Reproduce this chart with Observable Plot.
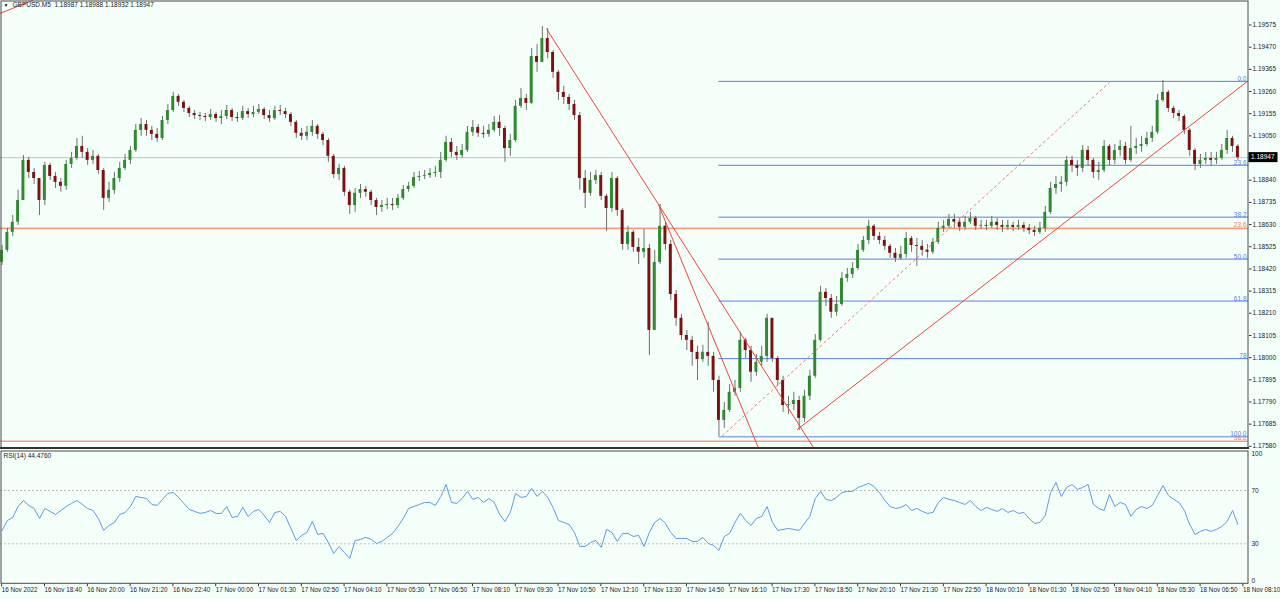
<!DOCTYPE html>
<html><head><meta charset="utf-8">
<script src="https://cdn.jsdelivr.net/npm/d3@7"></script>
<script src="https://cdn.jsdelivr.net/npm/@observablehq/plot@0.6"></script>
<style>
html,body{margin:0;padding:0;background:#f5fffa;overflow:hidden}
#chart{position:relative;width:1280px;height:599px}
svg{display:block}
</style></head><body><div id="chart"></div>
<script>
// ---- data (GBPUSD M5, two 5-minute bars per candle) ----
const symbolName = "GBPUSD.M5";
const lastBarOHLC = [1.18987, 1.18988, 1.18932, 1.18947];
const firstOpen = 1.18451;
const closes = [1.18508,1.18593,1.18641,1.18744,1.18934,1.18877,1.18848,1.18744,1.18910,1.18858,
1.18830,1.18811,1.18915,1.18943,1.19000,1.18972,1.18934,1.18953,1.18886,1.18754,
1.18792,1.18848,1.18896,1.18934,1.18981,1.19076,1.19104,1.19076,1.19057,1.19038,
1.19123,1.19170,1.19237,1.19209,1.19180,1.19156,1.19146,1.19142,1.19137,1.19151,
1.19132,1.19142,1.19170,1.19137,1.19132,1.19165,1.19151,1.19161,1.19175,1.19146,
1.19132,1.19170,1.19165,1.19151,1.19114,1.19062,1.19048,1.19067,1.19095,1.19057,
1.19028,1.18953,1.18867,1.18896,1.18783,1.18720,1.18778,1.18796,1.18783,1.18744,
1.18711,1.18720,1.18725,1.18720,1.18754,1.18796,1.18811,1.18853,1.18858,1.18862,
1.18872,1.18877,1.18934,1.19019,1.18972,1.18957,1.18981,1.19067,1.19090,1.19062,
1.19057,1.19076,1.19114,1.19085,1.18990,1.19028,1.19190,1.19227,1.19204,1.19426,
1.19398,1.19511,1.19445,1.19351,1.19256,1.19232,1.19199,1.19146,1.18848,1.18778,
1.18839,1.18862,1.18764,1.18706,1.18848,1.18697,1.18536,1.18593,1.18522,1.18499,
1.18517,1.18129,1.18451,1.18622,1.18536,1.18299,1.18186,1.18105,1.18082,1.18025,
1.17991,1.18025,1.18006,1.17892,1.17703,1.17750,1.17836,1.17854,1.18082,1.18034,
1.17931,1.17978,1.18006,1.18186,1.17996,1.17892,1.17773,1.17778,1.17797,1.17712,
1.17817,1.17912,1.18082,1.18309,1.18280,1.18215,1.18252,1.18375,1.18394,1.18422,
1.18508,1.18555,1.18622,1.18574,1.18555,1.18527,1.18494,1.18470,1.18489,1.18564,
1.18531,1.18527,1.18508,1.18499,1.18546,1.18612,1.18622,1.18654,1.18641,1.18617,
1.18641,1.18659,1.18622,1.18626,1.18622,1.18641,1.18626,1.18617,1.18626,1.18617,
1.18626,1.18612,1.18602,1.18593,1.18612,1.18688,1.18801,1.18820,1.18830,1.18934,
1.18910,1.18896,1.18981,1.18934,1.18877,1.18886,1.19000,1.18934,1.18981,1.19000,
1.18934,1.18990,1.19000,1.19009,1.19038,1.19067,1.19218,1.19256,1.19180,1.19156,
1.19142,1.19076,1.18981,1.18915,1.18934,1.18943,1.18934,1.18943,1.18981,1.19038,
1.19000,1.18947];
const highs = [1.18531,1.18612,1.18673,1.18792,1.18957,1.18948,1.18896,1.18839,1.18925,1.18920,
1.18877,1.18848,1.18934,1.18972,1.19038,1.19048,1.18990,1.18981,1.18962,1.18896,
1.18830,1.18877,1.18925,1.18962,1.19000,1.19104,1.19132,1.19123,1.19095,1.19085,
1.19142,1.19199,1.19256,1.19246,1.19218,1.19190,1.19170,1.19161,1.19156,1.19175,
1.19161,1.19170,1.19194,1.19180,1.19161,1.19190,1.19180,1.19190,1.19199,1.19185,
1.19170,1.19190,1.19194,1.19180,1.19161,1.19123,1.19085,1.19095,1.19123,1.19104,
1.19067,1.19038,1.18962,1.18915,1.18906,1.18792,1.18801,1.18820,1.18811,1.18792,
1.18754,1.18744,1.18754,1.18754,1.18773,1.18815,1.18830,1.18877,1.18881,1.18886,
1.18896,1.18906,1.18972,1.19048,1.19038,1.19000,1.19009,1.19095,1.19123,1.19104,
1.19095,1.19104,1.19142,1.19146,1.19095,1.19057,1.19218,1.19274,1.19246,1.19464,
1.19483,1.19568,1.19558,1.19454,1.19360,1.19284,1.19246,1.19218,1.19161,1.18886,
1.18877,1.18886,1.18877,1.18773,1.18877,1.18858,1.18706,1.18622,1.18602,1.18564,
1.18607,1.18536,1.18508,1.18725,1.18641,1.18555,1.18318,1.18205,1.18129,1.18101,
1.18054,1.18058,1.18167,1.18025,1.17912,1.17788,1.17873,1.17892,1.18120,1.18091,
1.18054,1.18015,1.18054,1.18205,1.18186,1.18006,1.17912,1.17817,1.17836,1.17817,
1.17845,1.17940,1.18110,1.18338,1.18328,1.18299,1.18290,1.18404,1.18422,1.18451,
1.18536,1.18574,1.18650,1.18631,1.18593,1.18574,1.18536,1.18517,1.18527,1.18593,
1.18574,1.18564,1.18555,1.18536,1.18564,1.18641,1.18650,1.18678,1.18678,1.18659,
1.18669,1.18688,1.18669,1.18650,1.18650,1.18669,1.18659,1.18650,1.18650,1.18641,
1.18650,1.18641,1.18631,1.18622,1.18641,1.18716,1.18830,1.18858,1.18858,1.18953,
1.18953,1.18934,1.19004,1.19000,1.18943,1.18925,1.19028,1.19009,1.19009,1.19028,
1.19019,1.19095,1.19038,1.19048,1.19067,1.19095,1.19246,1.19312,1.19265,1.19190,
1.19170,1.19151,1.19085,1.18990,1.18962,1.18972,1.18972,1.18972,1.19009,1.19076,
1.19048,1.19009];
const lows = [1.18436,1.18499,1.18574,1.18626,1.18744,1.18848,1.18820,1.18673,1.18720,1.18839,
1.18801,1.18783,1.18792,1.18896,1.18934,1.18943,1.18910,1.18915,1.18867,1.18697,
1.18735,1.18773,1.18830,1.18886,1.18915,1.18972,1.19048,1.19048,1.19028,1.19019,
1.19028,1.19104,1.19161,1.19190,1.19161,1.19137,1.19127,1.19123,1.19118,1.19123,
1.19114,1.19104,1.19127,1.19118,1.19114,1.19123,1.19132,1.19137,1.19151,1.19127,
1.19114,1.19123,1.19146,1.19132,1.19095,1.19038,1.19028,1.19028,1.19048,1.19033,
1.19004,1.18925,1.18848,1.18839,1.18764,1.18678,1.18688,1.18754,1.18759,1.18720,
1.18673,1.18688,1.18701,1.18697,1.18706,1.18744,1.18783,1.18801,1.18834,1.18843,
1.18848,1.18853,1.18848,1.18925,1.18948,1.18934,1.18943,1.18972,1.19048,1.19043,
1.19038,1.19043,1.19067,1.19048,1.18925,1.18953,1.19019,1.19180,1.19170,1.19199,
1.19351,1.19398,1.19416,1.19322,1.19218,1.19199,1.19170,1.19123,1.18792,1.18706,
1.18764,1.18820,1.18744,1.18597,1.18688,1.18669,1.18508,1.18508,1.18499,1.18441,
1.18470,1.18010,1.18271,1.18441,1.18508,1.18271,1.18148,1.18082,1.18034,1.17959,
1.17892,1.17978,1.17959,1.17836,1.17627,1.17665,1.17741,1.17817,1.17836,1.17996,
1.17883,1.17912,1.17959,1.17978,1.17978,1.17864,1.17741,1.17731,1.17750,1.17655,
1.17694,1.17797,1.17902,1.18073,1.18243,1.18186,1.18196,1.18243,1.18357,1.18375,
1.18413,1.18499,1.18536,1.18555,1.18536,1.18508,1.18470,1.18451,1.18460,1.18470,
1.18499,1.18432,1.18480,1.18470,1.18489,1.18536,1.18593,1.18612,1.18612,1.18597,
1.18602,1.18631,1.18602,1.18607,1.18602,1.18612,1.18602,1.18593,1.18602,1.18597,
1.18602,1.18593,1.18583,1.18574,1.18583,1.18593,1.18678,1.18773,1.18783,1.18811,
1.18877,1.18858,1.18877,1.18906,1.18848,1.18839,1.18877,1.18906,1.18915,1.18953,
1.18915,1.18925,1.18962,1.18972,1.19000,1.19019,1.19057,1.19209,1.19161,1.19132,
1.19118,1.19057,1.18953,1.18886,1.18896,1.18915,1.18906,1.18915,1.18934,1.18962,
1.18972,1.18934];
const rsiValues = [40.0,47.5,49.8,58.0,62.5,58.8,56.5,49.0,56.5,54.3,
52.0,55.0,58.0,60.3,62.5,59.5,56.5,55.0,49.0,40.0,
43.8,46.0,52.0,53.5,58.0,65.5,64.8,64.0,59.5,58.8,
63.3,67.8,68.5,64.8,60.3,55.8,54.3,52.8,53.5,55.0,
52.8,52.8,58.0,49.8,50.5,57.3,50.5,54.3,55.8,51.3,
46.0,53.5,54.3,50.5,41.5,32.5,36.3,38.5,46.8,37.0,
37.8,31.0,22.8,28.0,23.5,19.0,32.5,33.3,34.8,33.3,
30.3,31.8,34.8,37.8,43.0,49.0,56.5,58.0,59.5,61.0,
61.0,58.8,65.5,74.5,61.0,60.3,64.0,69.3,63.3,64.8,
61.0,64.0,61.0,52.0,46.8,53.5,67.8,64.8,65.5,71.5,
65.5,69.3,64.8,57.3,47.5,46.0,44.5,38.5,28.0,28.0,
31.0,32.5,27.3,40.8,38.5,31.8,37.8,37.8,35.5,36.3,
28.0,38.5,46.0,49.0,45.3,38.5,34.0,34.0,34.0,31.8,
31.8,34.8,30.3,28.8,25.0,35.5,37.8,46.0,52.8,47.5,
43.8,49.0,50.5,58.0,46.0,40.0,40.8,41.5,40.8,40.0,
45.3,50.5,64.0,69.3,63.3,62.5,64.8,68.5,69.3,69.3,
72.3,73.8,75.3,73.0,68.5,62.5,58.0,56.5,57.3,59.5,
55.0,56.5,54.3,52.8,53.5,61.0,64.8,63.3,62.5,61.0,
59.5,62.5,58.0,55.0,57.3,55.8,54.3,56.5,53.5,55.0,
52.8,53.5,49.0,45.3,46.0,51.3,68.5,76.0,65.5,72.3,
74.5,70.8,72.3,74.5,59.5,56.5,55.0,67.0,58.0,61.0,
59.5,50.5,55.8,58.0,56.5,58.8,66.3,73.8,66.3,63.3,
61.0,55.0,44.5,37.0,39.3,40.8,39.3,40.8,43.0,46.8,
55.0,44.476];
const barsPerCandle = 2;
const timeLabels = ["16 Nov 2022","16 Nov 18:40","16 Nov 20:00","16 Nov 21:20","16 Nov 22:40","17 Nov 00:00",
"17 Nov 01:30","17 Nov 02:50","17 Nov 04:10","17 Nov 05:30","17 Nov 06:50","17 Nov 08:10","17 Nov 09:30",
"17 Nov 10:50","17 Nov 12:10","17 Nov 13:30","17 Nov 14:50","17 Nov 16:10","17 Nov 17:30","17 Nov 18:50",
"17 Nov 20:10","17 Nov 21:30","17 Nov 22:50","18 Nov 00:10","18 Nov 01:30","18 Nov 02:50","18 Nov 04:10",
"18 Nov 05:30","18 Nov 06:50","18 Nov 08:10"];
const barsPerLabel = 16;
const priceTicks = [1.19575,1.19470,1.19365,1.19260,1.19155,1.19050,1.18840,1.18735,1.18630,1.18525,
1.18420,1.18315,1.18210,1.18105,1.18000,1.17895,1.17790,1.17685,1.17580];
const currentPrice = 1.18947;
const fibLevels = [0, 23.6, 38.2, 50, 61.8, 78, 100];
const fibLabels = ["0.0","23.6","38.2","50.0","61.8","78","100.0"];
const fibHigh = 1.19308, fibLow = 1.17625, fibStartBar = 268.5;
const orangeFib = [{label:"23.6", price:1.18612},{label:"38.2", price:1.17604}];
const trendSegments = [
  {b1:204, p1:1.19558, b2:304, p2:1.17571, dashed:false},
  {b1:245.9, p1:1.18725, b2:283.3, p2:1.17571, dashed:false},
  {b1:269.7, p1:1.17629, b2:414.5, p2:1.19303, dashed:true},
  {b1:297.7, p1:1.17659, b2:466.47, p2:1.19312, dashed:false},
  {b1:-0.1, p1:1.19631, b2:12, p2:1.19692, dashed:false}
];
const rsiLevels = [30, 70];

// ---- build ----
const W = 1280, RIGHT = 32;
const xDomain = [-0.075, 466.47];
const FONT = "'Liberation Sans', Arial, sans-serif";
const FS = 6.5;

const candles = closes.map((c, k) => {
  const o = k ? closes[k-1] : firstOpen;
  return {bar: barsPerCandle*k + 0.5, o, c, h: Math.max(highs[k], o, c), l: Math.min(lows[k], o, c)};
});
const fib = fibLevels.map((lv, i) => ({label: fibLabels[i], price: fibHigh - lv/100*(fibHigh - fibLow)}));
const rsiData = rsiValues.map((v, k) => ({bar: barsPerCandle*k + 0.5, v}));
const tickBars = timeLabels.map((_, i) => i*barsPerLabel);

const main = Plot.plot({
  width: W, height: 449, marginLeft: 0, marginRight: RIGHT, marginTop: 0, marginBottom: 0,
  style: {background: "#f5fffa", fontFamily: FONT, fontSize: FS + "px", color: "#222"},
  x: {domain: xDomain, axis: null},
  y: {domain: [1.17565, 1.19691], axis: null},
  marks: [
    Plot.ruleY([currentPrice], {stroke: "#c4c4c4", strokeWidth: 1}),
    Plot.ruleY(orangeFib, {y: "price", stroke: "#f5a07c", strokeWidth: 1.6}),
    Plot.ruleY(fib, {y: "price", x1: () => fibStartBar, x2: () => xDomain[1], stroke: "#5a7fe2", strokeWidth: 1}),
    Plot.ruleX(candles, {x: "bar", y1: "l", y2: "h", stroke: "#6f6f6f", strokeWidth: 1}),
    Plot.rect(candles, {x1: d => d.bar - 0.55, x2: d => d.bar + 0.55, y1: "o", y2: "c",
      fill: d => d.c >= d.o ? "#2f8a2f" : "#7d1010"}),
    Plot.link(trendSegments.filter(d => !d.dashed), {x1: "b1", y1: "p1", x2: "b2", y2: "p2", stroke: "#f0443a", strokeWidth: 1, clip: true}),
    Plot.link(trendSegments.filter(d => d.dashed), {x1: "b1", y1: "p1", x2: "b2", y2: "p2", stroke: "#f07a72", strokeWidth: 1, strokeDasharray: "3,2.5", clip: true}),
    Plot.text(fib, {x: () => xDomain[1], y: "price", text: "label", textAnchor: "end", lineAnchor: "bottom", dx: -2, dy: -0.5, fill: "#5a7fe2", fontSize: FS}),
    Plot.text(orangeFib, {x: () => xDomain[1], y: "price", text: "label", textAnchor: "end", lineAnchor: "bottom", dx: -2, dy: -1, fill: "#f08050", fontSize: FS}),
    Plot.text(["\u25BC"], {frameAnchor: "top-left", dx: 3, dy: 3, fontSize: 5, fill: "#111", textAnchor: "start", lineAnchor: "top"}),
    Plot.text([`${symbolName}  ${lastBarOHLC.map(v => v.toFixed(5)).join(" ")}`], {frameAnchor: "top-left", dx: 12, dy: 2, fontSize: FS, fill: "#222", textAnchor: "start", lineAnchor: "top"}),
    Plot.axisY(priceTicks, {anchor: "right", tickFormat: d => d.toFixed(5), tickSize: 2.5, tickPadding: 1.5, fontSize: FS, label: null, stroke: "#333", fill: "#222"}),
    Plot.frame({stroke: "#4a4a4a", inset: 0.5})
  ]
});

const rsiPlot = Plot.plot({
  width: W, height: 150, marginLeft: 0, marginRight: RIGHT, marginTop: 1, marginBottom: 15.7,
  style: {background: "#f5fffa", fontFamily: FONT, fontSize: FS + "px", color: "#222"},
  x: {domain: xDomain, axis: null},
  y: {domain: [0, 100], axis: null},
  marks: [
    Plot.ruleY(rsiLevels, {stroke: "#bdbdbd", strokeDasharray: "2,2"}),
    Plot.line(rsiData, {x: "bar", y: "v", stroke: "#5b9be0", strokeWidth: 1}),
    Plot.text([`RSI(14) ${rsiValues[rsiValues.length-1].toFixed(4)}`], {frameAnchor: "top-left", dx: 3, dy: 3, fontSize: FS, fill: "#222", textAnchor: "start", lineAnchor: "top"}),
    Plot.text([100], {x: () => xDomain[1], y: d => d, text: d => String(d), dx: 3, dy: 1, textAnchor: "start", lineAnchor: "top", fontSize: FS, fill: "#222"}),
    Plot.text([70, 30], {x: () => xDomain[1], y: d => d, text: d => String(d), dx: 3, textAnchor: "start", lineAnchor: "middle", fontSize: FS, fill: "#222"}),
    Plot.text([0], {x: () => xDomain[1], y: d => d, text: d => String(d), dx: 3, dy: -1, textAnchor: "start", lineAnchor: "bottom", fontSize: FS, fill: "#222"}),
    Plot.axisX(tickBars, {anchor: "bottom", tickFormat: d => timeLabels[Math.round(d / barsPerLabel)], textAnchor: "start", dx: 1, tickSize: 3, tickPadding: 0.5, fontSize: 6.3, label: null, stroke: "#333", fill: "#222"}),
    Plot.frame({stroke: "#4a4a4a", inset: 0.5})
  ]
});

// current price marker on the price axis
const ys = main.scale("y");
const yc = ys.apply(currentPrice);
const g = d3.select(main).append("g").attr("text-anchor", "start");
g.append("rect").attr("x", W - RIGHT + 0.5).attr("y", yc - 5).attr("width", 29).attr("height", 10).attr("fill", "#000");
g.append("text").attr("x", W - RIGHT + 3).attr("y", yc).attr("dy", "0.35em").attr("fill", "#fff")
  .attr("text-anchor", "start").attr("font-size", FS).attr("font-family", FONT).text(currentPrice.toFixed(5));
// panel separator
d3.select(main).append("rect").attr("x", 0).attr("y", 447).attr("width", W - RIGHT + 1).attr("height", 2).attr("fill", "#333");

const chart = document.getElementById("chart");
chart.appendChild(main);
chart.appendChild(rsiPlot);
</script></body></html>
